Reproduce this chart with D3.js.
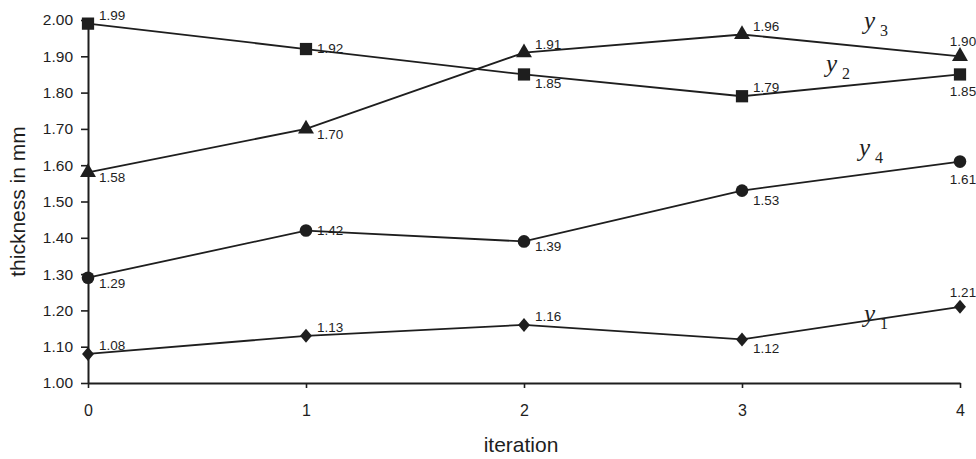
<!DOCTYPE html>
<html>
<head>
<meta charset="utf-8">
<script src="https://cdn.jsdelivr.net/npm/d3@7"></script>
<style>
  html, body { margin: 0; padding: 0; background: #ffffff; }
  svg { display: block; }
</style>
</head>
<body>
<svg id="chart" width="976" height="459"></svg>
<script>
// Iteration history of the four wall thicknesses
const iterations = [0, 1, 2, 3, 4];
const yTicks = [1.00, 1.10, 1.20, 1.30, 1.40, 1.50, 1.60, 1.70, 1.80, 1.90, 2.00];

const y1 = [1.08, 1.13, 1.16, 1.12, 1.21];
const y2 = [1.99, 1.92, 1.85, 1.79, 1.85];
const y3 = [1.58, 1.70, 1.91, 1.96, 1.90];
const y4 = [1.29, 1.42, 1.39, 1.53, 1.61];

const seriesNames = ["1", "2", "3", "4"];

// where each value label sits relative to its marker
const labelPlace = {
  "1": ["ur", "ur", "ur", "lr", "u"],
  "2": ["ur", "r", "lr", "ur", "d"],
  "3": ["r2", "r2", "ur", "ur", "u"],
  "4": ["r2", "r", "r2", "lr", "d"]
};
const offsets = {
  ur: { dx: 11, dy: -4, anchor: "start" },
  r:  { dx: 11, dy: 4, anchor: "start" },
  r2: { dx: 11, dy: 10, anchor: "start" },
  lr: { dx: 11, dy: 14, anchor: "start" },
  u:  { dx: 3, dy: -10, anchor: "middle" },
  d:  { dx: 3, dy: 22, anchor: "middle" }
};

// wide diamond: a square standing on its corner, slightly taller than wide
const wideDiamond = {
  draw(context, size) {
    const h = Math.sqrt(size) * 0.7, w = h * 0.85;
    context.moveTo(0, -h);
    context.lineTo(w, 0);
    context.lineTo(0, h);
    context.lineTo(-w, 0);
    context.closePath();
  }
};

const series = [
  { name: "1", values: y1, symbol: wideDiamond, size: 100, label: { x: 864, y: 322 } },
  { name: "2", values: y2, symbol: d3.symbolSquare, size: 150, label: { x: 826, y: 72 } },
  { name: "3", values: y3, symbol: d3.symbolTriangle, size: 110, label: { x: 864, y: 29 } },
  { name: "4", values: y4, symbol: d3.symbolCircle, size: 125, label: { x: 859, y: 156 } }
];

const svg = d3.select("#chart");
const margin = { left: 88, right: 16, top: 20, bottom: 76 };
const W = 976, H = 459;

const x = d3.scaleLinear().domain([0, 4]).range([margin.left, W - margin.right]);
const y = d3.scaleLinear().domain([1.0, 2.0]).range([H - margin.bottom, margin.top]);

const ink = "#1e1e1e";
const sans = "Arial, 'Liberation Sans', sans-serif";

// axes
const xAxis = d3.axisBottom(x).tickValues(iterations).tickFormat(d3.format("d"))
  .tickSizeInner(5).tickSizeOuter(0).tickPadding(17);
const yAxis = d3.axisLeft(y).tickValues(yTicks).tickFormat(d3.format(".2f"))
  .tickSizeInner(7).tickSizeOuter(0).tickPadding(8);

const gx = svg.append("g").attr("transform", `translate(0,${y(1.0)})`).call(xAxis);
const gy = svg.append("g").attr("transform", `translate(${x(0)},0)`).call(yAxis);

[gx, gy].forEach(g => {
  g.selectAll(".domain").attr("stroke", ink).attr("stroke-width", 2);
  g.selectAll(".tick line").attr("stroke", ink).attr("stroke-width", 1.6);
});
gx.selectAll(".tick text").attr("font-family", sans).attr("font-size", 16).attr("fill", ink);
gy.selectAll(".tick text").attr("font-family", sans).attr("font-size", 15.5).attr("fill", ink);

// axis titles
svg.append("text")
  .attr("x", x(2) - 3).attr("y", 452)
  .attr("text-anchor", "middle")
  .attr("font-family", sans)
  .attr("font-size", 21)
  .attr("fill", ink)
  .text("iteration");

svg.append("text")
  .attr("transform", `translate(25,${(123 + 280) / 2}) rotate(-90)`)
  .attr("text-anchor", "middle")
  .attr("font-family", sans)
  .attr("font-size", 21)
  .attr("fill", ink)
  .text("thickness in mm");

// lines, markers and value labels
const line = d3.line().x((d, i) => x(iterations[i])).y(d => y(d));

series.forEach(s => {
  const g = svg.append("g");
  g.append("path")
    .attr("d", line(s.values))
    .attr("fill", "none")
    .attr("stroke", ink)
    .attr("stroke-width", 1.8);

  g.selectAll("path.mark")
    .data(s.values)
    .join("path")
    .attr("class", "mark")
    .attr("transform", (d, i) => `translate(${x(iterations[i])},${y(d)})`)
    .attr("d", d3.symbol().type(s.symbol).size(s.size))
    .attr("fill", ink);

  g.selectAll("text.val")
    .data(s.values)
    .join("text")
    .attr("class", "val")
    .each(function (d, i) {
      const o = offsets[labelPlace[s.name][i]];
      d3.select(this)
        .attr("x", x(iterations[i]) + o.dx)
        .attr("y", y(d) + o.dy)
        .attr("text-anchor", o.anchor);
    })
    .attr("font-family", sans)
    .attr("font-size", 13.5)
    .attr("fill", ink)
    .text(d => d3.format(".2f")(d));

  // series name: italic y with subscript index
  const t = svg.append("text")
    .attr("x", s.label.x).attr("y", s.label.y)
    .attr("font-family", "'Times New Roman', 'Liberation Serif', serif")
    .attr("fill", ink);
  t.append("tspan").attr("font-style", "italic").attr("font-size", 25).text("y");
  t.append("tspan").attr("dx", 5).attr("dy", 7).attr("font-size", 16).text(s.name);
});
</script>
</body>
</html>
